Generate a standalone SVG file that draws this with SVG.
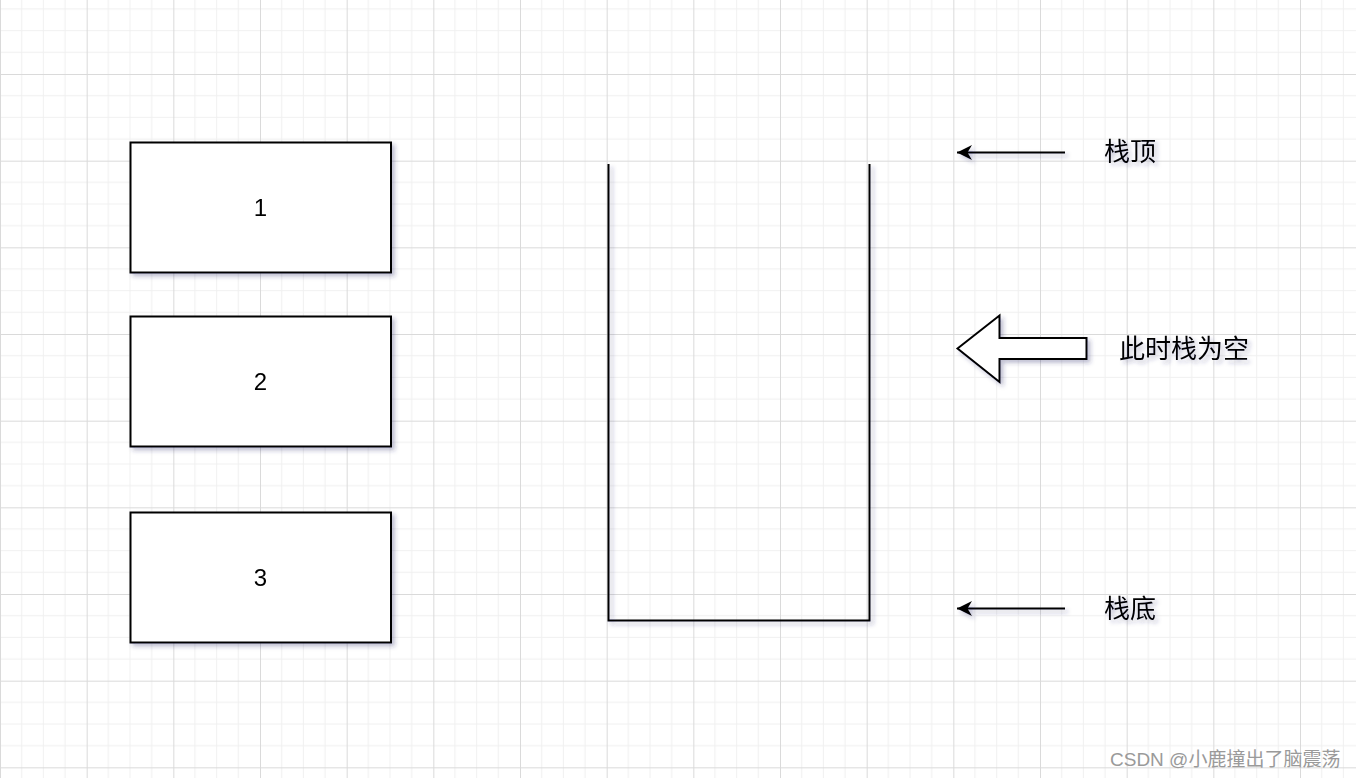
<svg xmlns="http://www.w3.org/2000/svg" width="1356" height="778" viewBox="0 0 1356 778">
  <defs>
    <pattern id="grid" patternUnits="userSpaceOnUse" x="0" y="-12.667" width="86.667" height="86.667">
      <path d="M21.667,0V86.667M43.333,0V86.667M65,0V86.667M0,21.667H86.667M0,43.333H86.667M0,65H86.667" stroke="#f0f0f0" stroke-width="1" fill="none"/>
      <path d="M0.5,0V86.667M0,0.5H86.667" stroke="#dadada" stroke-width="1" fill="none"/>
    </pattern>
    <filter id="sh" x="-20%" y="-20%" width="140%" height="140%">
      <feDropShadow dx="3" dy="3" stdDeviation="2" flood-color="#2a2a6a" flood-opacity="0.3"/>
    </filter>
    <marker id="ah" markerUnits="userSpaceOnUse" markerWidth="18" markerHeight="18" refX="15" refY="9" orient="auto" viewBox="0 0 18 18">
      <path d="M15,9 L0,1.5 L4.5,9 L0,16.5 Z" fill="#000"/>
    </marker>
    <style>
      .box { fill: #ffffff; stroke: #000000; stroke-width: 2; }
      .num { font-family: "Liberation Sans", Arial, sans-serif; font-size: 24px; fill: #000; text-anchor: middle; }
      .cjk { font-family: "Liberation Sans", "Noto Sans CJK SC", sans-serif; font-size: 26px; fill: #000; text-anchor: middle; }
      .ln { fill: none; stroke: #000; stroke-width: 2; }
      .wm { font-family: "Liberation Sans", "Noto Sans CJK SC", sans-serif; font-size: 19px; fill: #9a9a9a; }
    </style>
  </defs>
  <rect x="0" y="0" width="1356" height="778" fill="#ffffff"/>
  <rect x="0" y="0" width="1356" height="778" fill="url(#grid)"/>

  <g id="node-1" filter="url(#sh)">
    <rect class="box" x="130.5" y="142.5" width="260.5" height="130"/>
    <text class="num" x="260.5" y="215.5">1</text>
  </g>
  <g id="node-2" filter="url(#sh)">
    <rect class="box" x="130.5" y="316.5" width="260.5" height="130"/>
    <text class="num" x="260.5" y="389.5">2</text>
  </g>
  <g id="node-3" filter="url(#sh)">
    <rect class="box" x="130.5" y="512.5" width="260.5" height="130"/>
    <text class="num" x="260.5" y="585.5">3</text>
  </g>

  <g id="stack" filter="url(#sh)">
    <path class="ln" d="M608.5,164 V620.5 H869.5 V164"/>
  </g>

  <g id="empty-arrow" filter="url(#sh)">
    <path d="M957.5,348.5 L999.5,315.5 L999.5,338 L1086.5,338 L1086.5,359 L999.5,359 L999.5,382 Z" fill="#ffffff" stroke="#000" stroke-width="2" stroke-linejoin="miter"/>
  </g>

  <g id="connectors" filter="url(#sh)">
    <path class="ln" d="M1065,152.5 H957" marker-end="url(#ah)"/>
    <path class="ln" d="M1065,608.5 H957" marker-end="url(#ah)"/>
  </g>

  <g id="label-top" filter="url(#sh)">
    <text class="cjk" x="1130" y="161">栈顶</text>
  </g>
  <g id="label-empty" filter="url(#sh)">
    <text class="cjk" x="1184" y="358">此时栈为空</text>
  </g>
  <g id="label-bottom" filter="url(#sh)">
    <text class="cjk" x="1130" y="618">栈底</text>
  </g>

  <text class="wm" x="1110" y="766">CSDN @小鹿撞出了脑震荡</text>
</svg>
